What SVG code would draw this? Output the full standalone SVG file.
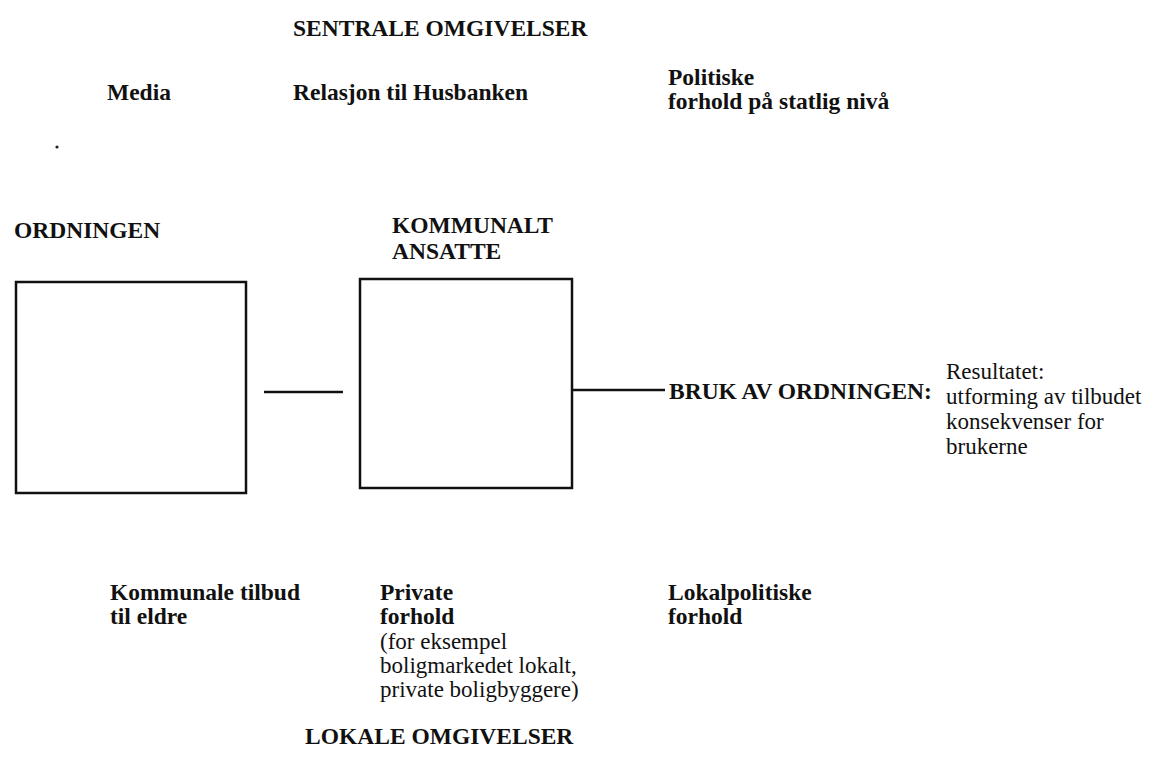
<svg xmlns="http://www.w3.org/2000/svg" width="1163" height="772" viewBox="0 0 1163 772">
<style>
.b{font-family:"Liberation Serif","Times New Roman",serif;font-weight:bold;font-size:23.5px;fill:#111}
.r{font-family:"Liberation Serif","Times New Roman",serif;font-size:23px;fill:#111}
.box{fill:none;stroke:#111;stroke-width:2.5}
.ln{stroke:#111;stroke-width:2.5;fill:none}
</style>
<rect width="1163" height="772" fill="#fff"/>
<g id="sentrale">
<text class="b" x="293" y="36">SENTRALE OMGIVELSER</text>
</g>
<g id="media"><text class="b" x="107" y="100">Media</text></g>
<g id="husbanken"><text class="b" x="293" y="100">Relasjon til Husbanken</text></g>
<g id="politiske"><text class="b" x="668" y="85">Politiske</text><text class="b" x="668" y="109">forhold på statlig nivå</text></g>
<circle cx="57" cy="147" r="1.6" fill="#222"/>
<g id="ordningen">
<text class="b" x="14" y="238">ORDNINGEN</text>
<rect class="box" x="16" y="282" width="230" height="211"/>
</g>
<g id="kommunalt">
<text class="b" x="392" y="233">KOMMUNALT</text>
<text class="b" x="392" y="259">ANSATTE</text>
<rect class="box" x="360" y="279" width="212" height="209"/>
</g>
<g id="connectors">
<line class="ln" x1="264" y1="392" x2="343" y2="392"/>
<line class="ln" x1="572" y1="390" x2="665" y2="390"/>
</g>
<g id="bruk">
<text class="b" x="669" y="399">BRUK AV ORDNINGEN:</text>
</g>
<g id="resultatet">
<text class="r" x="946" y="379">Resultatet:</text>
<text class="r" x="946" y="404">utforming av tilbudet</text>
<text class="r" x="946" y="429">konsekvenser for</text>
<text class="r" x="946" y="454">brukerne</text>
</g>
<g id="kommunale">
<text class="b" x="110" y="600">Kommunale tilbud</text>
<text class="b" x="110" y="624">til eldre</text>
</g>
<g id="private">
<text class="b" x="380" y="600">Private</text>
<text class="b" x="380" y="624">forhold</text>
<text class="r" x="380" y="649">(for eksempel</text>
<text class="r" x="380" y="673">boligmarkedet lokalt,</text>
<text class="r" x="380" y="697">private boligbyggere)</text>
</g>
<g id="lokalpolitiske">
<text class="b" x="668" y="600">Lokalpolitiske</text>
<text class="b" x="668" y="624">forhold</text>
</g>
<g id="lokale">
<text class="b" x="305" y="744">LOKALE OMGIVELSER</text>
</g>
</svg>
